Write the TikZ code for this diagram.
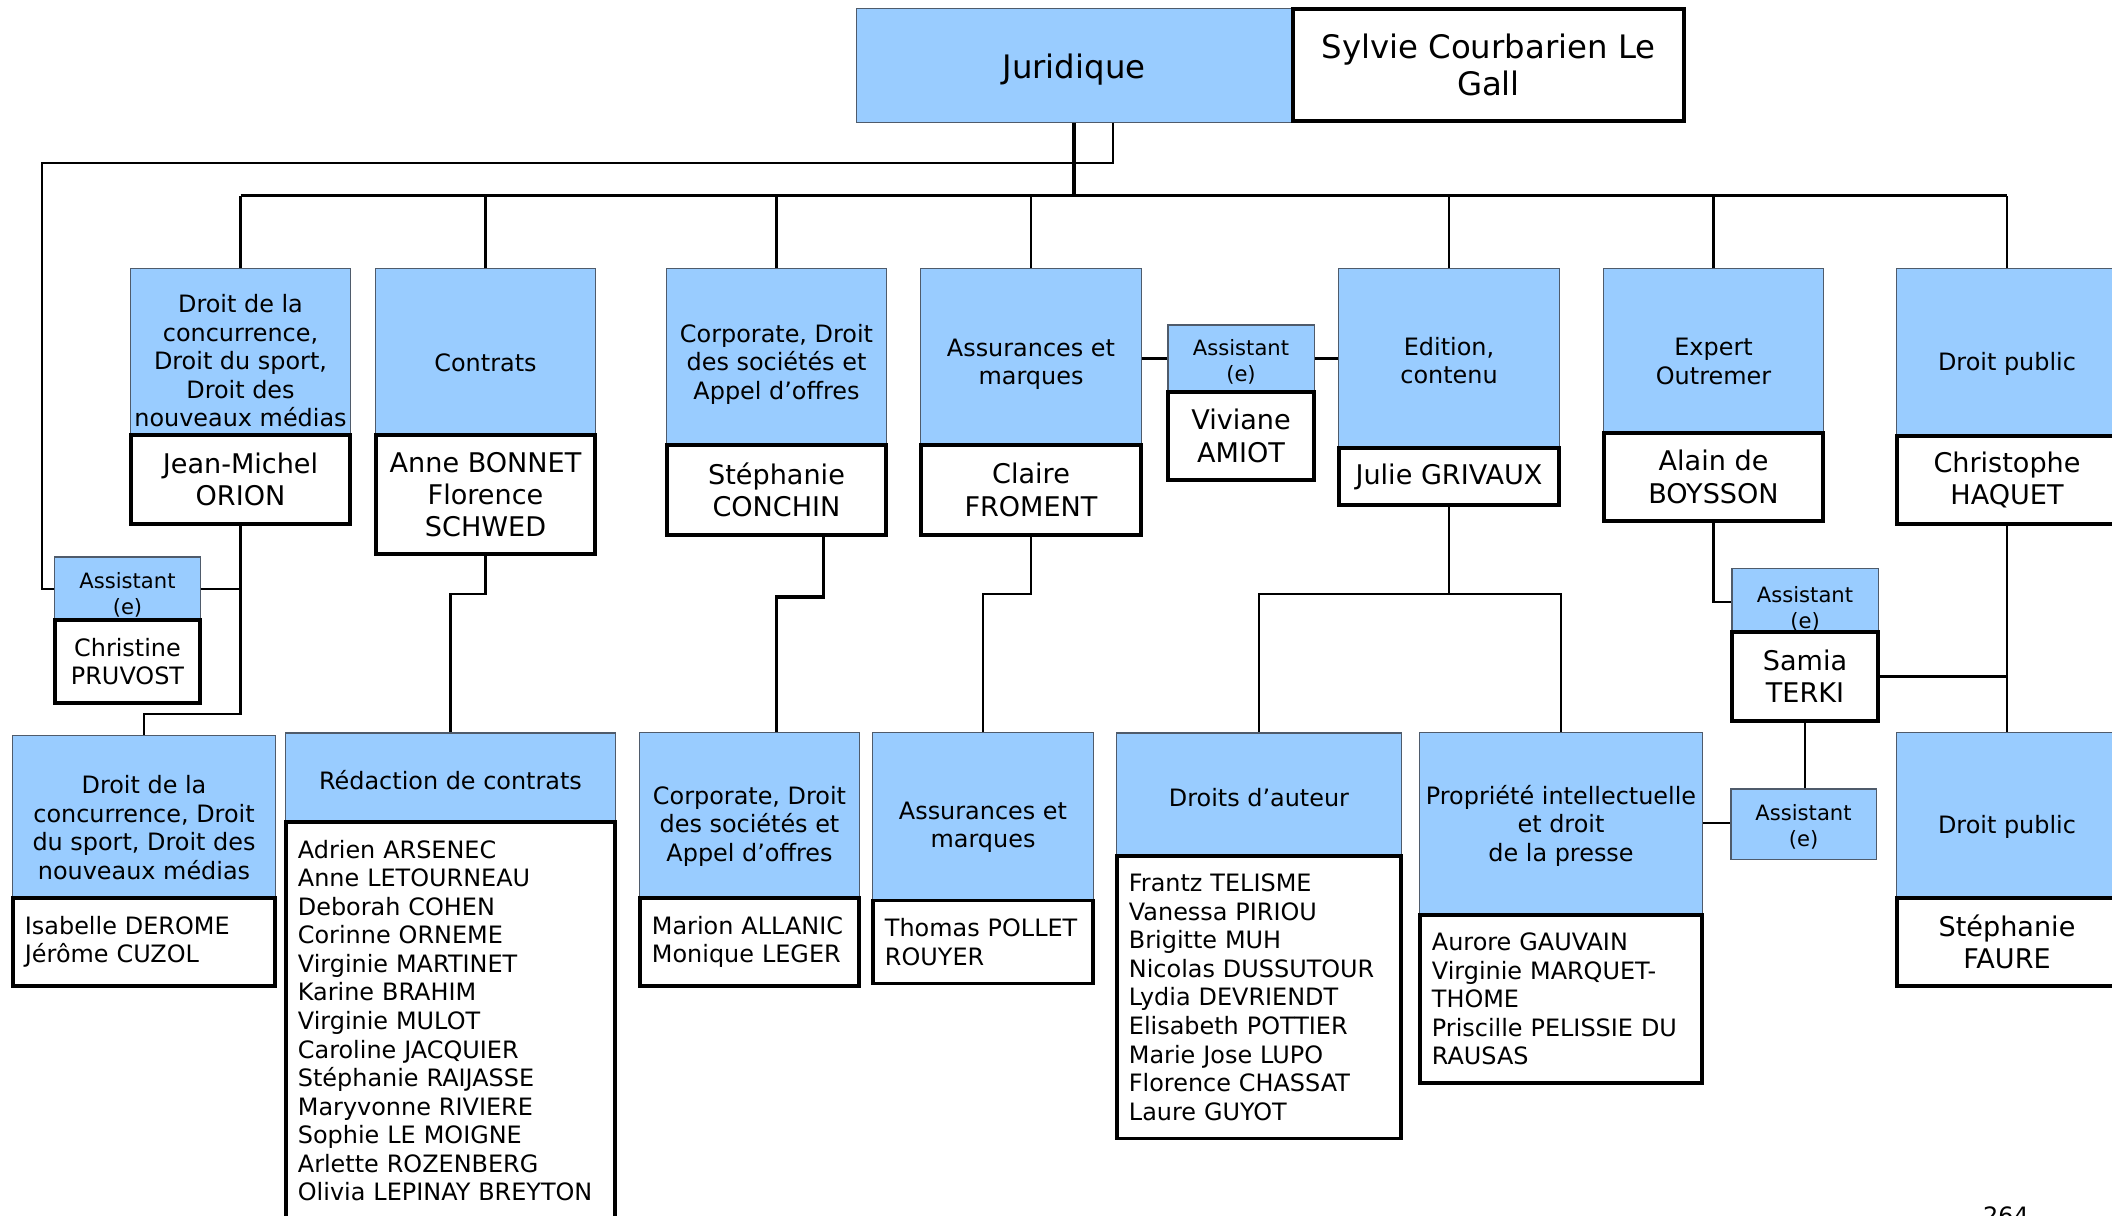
\documentclass[tikz,border=0pt]{standalone}
\usepackage{fontspec}
\setmainfont{DejaVu Sans}
\usetikzlibrary{calc}
\definecolor{hdblue}{HTML}{99CCFF}
\definecolor{hdline}{HTML}{4F5B6B}
\newcommand\lift[1]{\rule{0pt}{#1pt}}
\tikzset{
  hd/.style={draw=hdline, line width=0.3pt, fill=hdblue, align=center, inner sep=1pt, font=\fontsize{6.8}{8.1}\selectfont},
  hdbig/.style={hd, font=\fontsize{9.2}{10.7}\selectfont},
  asst/.style={hd, font=\fontsize{6}{7.4}\selectfont},
  pers/.style={draw, line width=1.1pt, fill=white, align=center, inner sep=1pt, font=\fontsize{7.7}{9.2}\selectfont},
  persbig/.style={pers, font=\fontsize{9.2}{10.7}\selectfont},
  perssmall/.style={pers, font=\fontsize{6.8}{8.1}\selectfont},
  plist/.style={pers, align=left, inner xsep=0.12cm, inner ysep=0.18cm, font=\fontsize{6.8}{8.12}\selectfont},
  ln/.style={line width=0.6pt},
  bus/.style={line width=0.9pt},
}
\begin{document}
\begin{tikzpicture}[x=0.01cm, y=-0.01cm]
\path[use as bounding box] (0,0) rectangle (2112,1215);

\node[hdbig, minimum width=4.34cm, minimum height=1.13cm] (jur) at (1074,65.5) {\lift{9.3}Juridique};
\node[persbig, minimum width=3.91cm, minimum height=1.12cm] (syl) at (1488.5,65) {Sylvie Courbarien Le\\Gall};

\node[hd, minimum width=2.19cm, minimum height=1.66cm] (hconc) at (240.5,352) {\lift{10.3}Droit de la\\concurrence,\\Droit du sport,\\Droit des\\nouveaux médias};
\node[pers, minimum width=2.19cm, minimum height=0.89cm] (pconc) at (240.5,479.5) {Jean-Michel\\ORION};
\node[hd, minimum width=2.19cm, minimum height=1.66cm] (hcontr) at (485.5,352) {\lift{10.9}Contrats};
\node[pers, minimum width=2.19cm, minimum height=1.19cm] (pcontr) at (485.5,494.5) {Anne BONNET\\Florence\\SCHWED};
\node[hd, minimum width=2.19cm, minimum height=1.76cm] (hcorp) at (776.5,357) {\lift{9.2}Corporate, Droit\\des sociétés et\\Appel d’offres};
\node[pers, minimum width=2.19cm, minimum height=0.90cm] (pcorp) at (776.5,490) {Stéphanie\\CONCHIN};
\node[hd, minimum width=2.20cm, minimum height=1.76cm] (hass) at (1031,357) {\lift{9.2}Assurances et\\marques};
\node[pers, minimum width=2.20cm, minimum height=0.90cm] (pass) at (1031,490) {Claire\\FROMENT};
\node[asst, minimum width=1.46cm, minimum height=0.67cm] (hasv) at (1241,358.5) {\lift{6.3}Assistant\\(e)};
\node[pers, minimum width=1.46cm, minimum height=0.88cm] (pasv) at (1241,436) {Viviane\\AMIOT};
\node[hd, minimum width=2.20cm, minimum height=1.79cm] (hedit) at (1449,358.5) {\lift{6.3}Edition,\\contenu};
\node[pers, minimum width=2.20cm, minimum height=0.57cm] (pedit) at (1449,476.5) {Julie GRIVAUX};
\node[hd, minimum width=2.19cm, minimum height=1.64cm] (hexp) at (1713.5,351) {\lift{10.9}Expert\\Outremer};
\node[pers, minimum width=2.19cm, minimum height=0.88cm] (pexp) at (1713.5,477) {Alain de\\BOYSSON};
\node[hd, minimum width=2.20cm, minimum height=1.67cm] (hpub) at (2007,352.5) {\lift{11.4}Droit public};
\node[pers, minimum width=2.20cm, minimum height=0.88cm] (ppub) at (2007,480) {Christophe\\HAQUET};

\node[asst, minimum width=1.45cm, minimum height=0.62cm] (hasc) at (127.5,589) {\lift{8}Assistant\\(e)};
\node[perssmall, minimum width=1.45cm, minimum height=0.83cm] (pasc) at (127.5,661.5) {Christine\\PRUVOST};
\node[hd, minimum width=2.62cm, minimum height=1.65cm] (hconc2) at (144,818.5) {\lift{10.3}Droit de la\\concurrence, Droit\\du sport, Droit des\\nouveaux médias};
\node[plist, text width=2.38cm, minimum height=0.82cm] (pconc2) at (144,942) {Isabelle DEROME\\Jérôme CUZOL};
\node[hd, minimum width=3.29cm, minimum height=0.87cm] (hred) at (450.5,776.5) {\lift{7.5}Rédaction de contrats};
\node[plist, text width=3.05cm, anchor=north] (pred) at (450.5,820) {Adrien ARSENEC\\Anne LETOURNEAU\\Deborah COHEN\\Corinne ORNEME\\Virginie MARTINET\\Karine BRAHIM\\Virginie MULOT\\Caroline JACQUIER\\Stéphanie RAIJASSE\\Maryvonne RIVIERE\\Sophie LE MOIGNE\\Arlette ROZENBERG\\Olivia LEPINAY BREYTON};
\node[hd, minimum width=2.19cm, minimum height=1.68cm] (hcorp2) at (749.5,817) {\lift{10.3}Corporate, Droit\\des sociétés et\\Appel d’offres};
\node[plist, text width=1.95cm, minimum height=0.82cm] (pcorp2) at (749.5,942) {Marion ALLANIC\\Monique LEGER};
\node[hd, minimum width=2.20cm, minimum height=1.68cm] (hass2) at (983,817) {\lift{10.9}Assurances et\\marques};
\node[plist, text width=1.96cm, minimum height=0.82cm] (pass2) at (983,942) {Thomas POLLET\\ROUYER};
\node[hd, minimum width=2.84cm, minimum height=1.21cm] (hda) at (1259,793.5) {\lift{7.5}Droits d’auteur};
\node[plist, text width=2.60cm, anchor=north] (pda) at (1259,854) {Frantz TELISME\\Vanessa PIRIOU\\Brigitte MUH\\Nicolas DUSSUTOUR\\Lydia DEVRIENDT\\Elisabeth POTTIER\\Marie Jose LUPO\\Florence CHASSAT\\Laure GUYOT};
\node[hd, minimum width=2.82cm, minimum height=1.80cm] (hpi) at (1561,823) {\lift{7}Propriété intellectuelle\\et droit\\de la presse};
\node[plist, text width=2.58cm, anchor=north] (ppi) at (1561,913) {Aurore GAUVAIN\\Virginie MARQUET-\\THOME\\Priscille PELISSIE DU\\RAUSAS};
\node[asst, minimum width=1.46cm, minimum height=0.60cm] (hast2) at (1805,602) {\lift{8.6}Assistant\\(e)};
\node[pers, minimum width=1.46cm, minimum height=0.89cm] (past2) at (1805,676.5) {Samia\\TERKI};
\node[asst, minimum width=1.45cm, minimum height=0.70cm] (hast3) at (1803.5,824) {\lift{6}Assistant\\(e)};
\node[hd, minimum width=2.20cm, minimum height=1.65cm] (hpub2) at (2007,815.5) {\lift{11.4}Droit public};
\node[pers, minimum width=2.20cm, minimum height=0.88cm] (ppub2) at (2007,942) {Stéphanie\\FAURE};

\node[inner sep=0, anchor=north, font=\fontsize{6.8}{8.1}\selectfont] (page) at (2006,1206) {264};

\draw[line width=1.2pt] (jur.south) -- ++(0,73) coordinate (bus);
\draw[bus] (bus -| hconc.north) -- (bus -| hpub.north);
\draw[ln] (hconc.north) -- (hconc.north |- bus);
\draw[ln] (hcontr.north) -- (hcontr.north |- bus);
\draw[ln] (hcorp.north) -- (hcorp.north |- bus);
\draw[ln] (hass.north) -- (hass.north |- bus);
\draw[ln] (hedit.north) -- (hedit.north |- bus);
\draw[ln] (hexp.north) -- (hexp.north |- bus);
\draw[ln] (hpub.north) -- (hpub.north |- bus);
\draw[ln] ($(jur.south)+(39,0)$) -- ++(0,40) -| ($(hasc.west)+(-12,0)$) -- (hasc.west);
\draw[ln] (hasv.west -| hass.east) -- (hasv.west);
\draw[ln] (hasv.east) -- (hasv.east -| hedit.west);

\draw[ln] (pconc.south) -- ++(0,188) -| (hconc2.north);
\draw[ln] (hasc.east) -- (hasc.east -| pconc.south);
\draw[ln] (pcontr.south) -- ++(0,38) -| (hred.north);
\draw[line width=0.9pt] ($(pcorp.south)+(47,0)$) -- ++(0,60) -| (hcorp2.north -| pcorp.south);
\draw[ln] (pass.south) -- ++(0,57) -| (hass2.north);
\draw[ln] (pedit.south) -- ++(0,87) -| (hda.north);
\draw[ln] (pedit.south) -- ++(0,87) -| (hpi.north);
\draw[ln] (pexp.south) |- (hast2.west);
\draw[ln] (past2.east) -- (past2.east -| ppub.south);
\draw[ln] (past2.south) -- (past2.south |- hast3.north);
\draw[ln] (hpi.east) -- (hpi.east -| hast3.west);
\draw[ln] (ppub.south) -- (hpub2.north);
\end{tikzpicture}
\end{document}
